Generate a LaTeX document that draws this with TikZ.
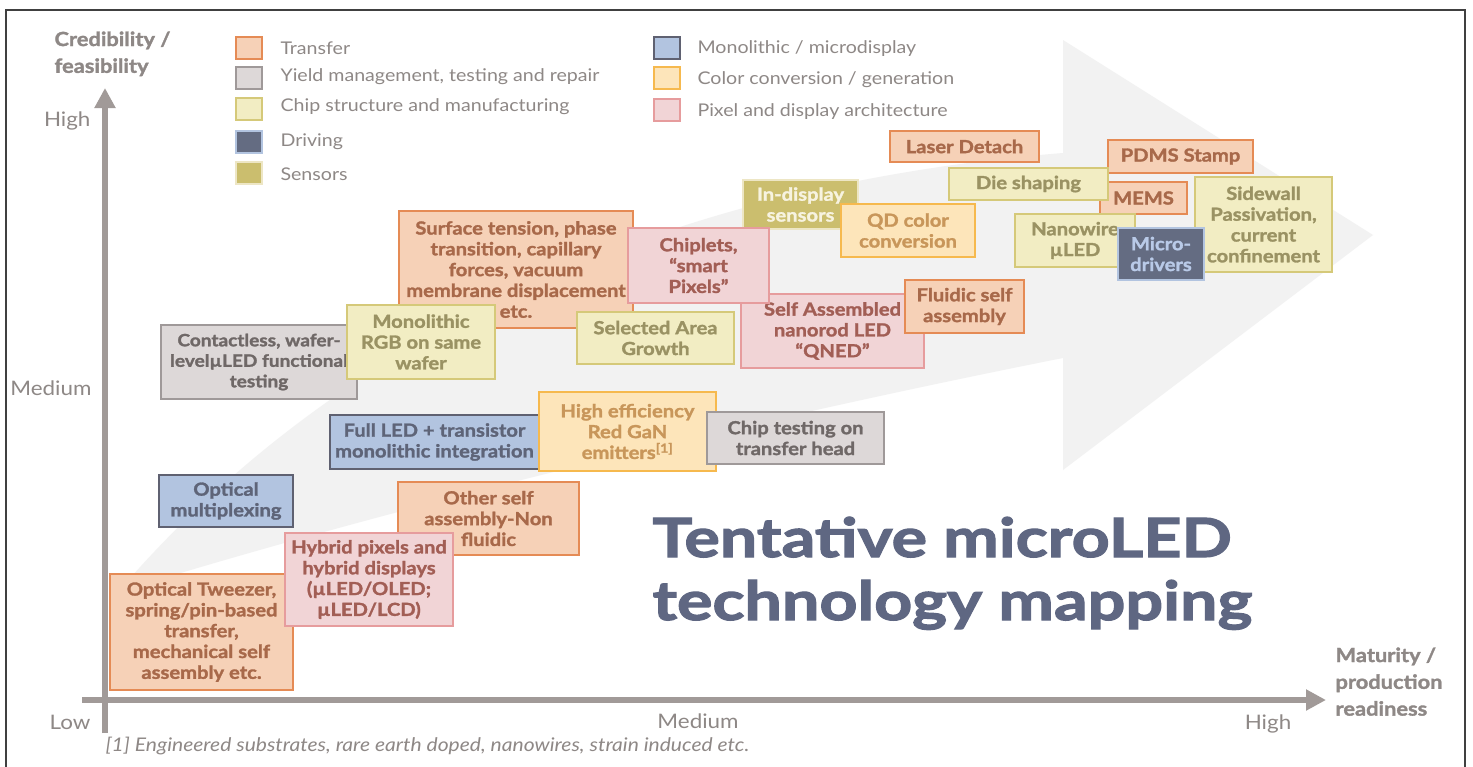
\documentclass[tikz,border=0pt]{standalone}
\usepackage{fontspec}
\setmainfont{Lato}
\newfontfamily\gill{Lato}[FakeStretch=1.12, BoldFeatures={FakeBold=1.6}]
\newfontfamily\gilltitle{Lato}[FakeStretch=1.23, BoldFeatures={FakeBold=2.2}]
\usetikzlibrary{arrows.meta}

\definecolor{trFill}{HTML}{F6D1B7}
\definecolor{trLine}{HTML}{E58B55}
\definecolor{trText}{HTML}{A8694A}
\definecolor{ydFill}{HTML}{DDD8D8}
\definecolor{ydLine}{HTML}{9F9999}
\definecolor{ydText}{HTML}{6F6867}
\definecolor{chFill}{HTML}{F2EDC3}
\definecolor{chLine}{HTML}{D5C979}
\definecolor{chText}{HTML}{9A9263}
\definecolor{drFill}{HTML}{646C82}
\definecolor{drLine}{HTML}{B2C4E0}
\definecolor{drText}{HTML}{B9CAE8}
\definecolor{snFill}{HTML}{CBBE6E}
\definecolor{snLine}{HTML}{EDE6C5}
\definecolor{snText}{HTML}{F7F3E0}
\definecolor{moFill}{HTML}{B2C4E0}
\definecolor{moLine}{HTML}{5F6171}
\definecolor{moText}{HTML}{5E6478}
\definecolor{ccFill}{HTML}{FDE5BA}
\definecolor{ccLine}{HTML}{F6B94E}
\definecolor{ccText}{HTML}{C8965A}
\definecolor{pxFill}{HTML}{F1D4D6}
\definecolor{pxLine}{HTML}{E69C9D}
\definecolor{pxText}{HTML}{A25E55}
\definecolor{axisGray}{HTML}{A19A98}
\definecolor{lblGray}{HTML}{8E8886}
\definecolor{arrowBg}{HTML}{F2F2F2}
\definecolor{titleC}{HTML}{5F6782}

\begin{document}
\begin{tikzpicture}[x=1pt, y=-1pt, >={Triangle[length=20pt,width=20pt]},
    techbox/.style={line width=2pt, anchor=north west, align=center, inner sep=1pt,
        font=\gill\bfseries\fontsize{18}{20.8}\selectfont},
    wh/.style 2 args={minimum width=#1pt, minimum height=#2pt},
    transfer/.style={techbox, fill=trFill, draw=trLine, text=trText},
    yield/.style={techbox, fill=ydFill, draw=ydLine, text=ydText},
    chip/.style={techbox, fill=chFill, draw=chLine, text=chText},
    driving/.style={techbox, fill=drFill, draw=drLine, text=drText},
    sensor/.style={techbox, fill=snFill, draw=snLine, text=snText},
    mono/.style={techbox, fill=moFill, draw=moLine, text=moText},
    colconv/.style={techbox, fill=ccFill, draw=ccLine, text=ccText},
    pixel/.style={techbox, fill=pxFill, draw=pxLine, text=pxText},
    lgtext/.style={anchor=west, text=lblGray, font=\gill\fontsize{17.5}{22}\selectfont},
    axlabel/.style={text=lblGray, font=\gill\fontsize{20}{25}\selectfont},
    axtitle/.style={anchor=north west, align=left, text=lblGray,
        font=\gill\bfseries\fontsize{19.5}{26.8}\selectfont},
    axis/.style={draw=axisGray, line width=6pt}]

\useasboundingbox (0,0) rectangle (1473,766);
\fill[white] (0,0) rectangle (1473,766);

% background arrow
\fill[arrowBg] (118,592) .. controls (300,380) and (600,190) .. (1063,153)
    -- (1063,40) -- (1373,235) -- (1063,470) -- (1063,358)
    .. controls (700,430) and (350,520) .. (118,592) -- cycle;

\draw[line width=1.5pt, black!75] (6,780) -- (6,10) -- (1465,10) -- (1465,780);

% axes
\coordinate (origin) at (105,700);
\coordinate (ytop) at (105,88);
\coordinate (xend) at (1326,700);
\draw[axis, ->] (105,733) -- (ytop);
\draw[axis, ->] (82,700) -- (xend);

\node[axtitle] (ytitle) at (51,28) {Credibility /\\feasibility};
\node[axtitle] (xtitle) at (1332,644) {Maturity /\\production\\readiness};
\node[axlabel, anchor=east] (yhigh) at (94,121) {High};
\node[axlabel, anchor=east] (ymed) at (95,388) {Medium};
\node[axlabel, anchor=east] (ylow) at (94,722) {Low};
\node[axlabel] (xmed) at (698,721) {Medium};
\node[axlabel] (xhigh) at (1268,724) {High};

% legend
\node[transfer, wh={26}{22}] (lgTr) at (235,36) {};
\node[yield, wh={26}{22}] (lgYd) at (235,66) {};
\node[chip, wh={26}{22}] (lgCh) at (235,97) {};
\node[driving, wh={26}{22}] (lgDr) at (235,130) {};
\node[sensor, wh={26}{22}] (lgSn) at (235,161) {};
\node[mono, wh={26}{22}] (lgMo) at (653,36) {};
\node[colconv, wh={26}{22}] (lgCc) at (653,66) {};
\node[pixel, wh={26}{22}] (lgPx) at (653,98) {};
\node[lgtext] (lgTrT) at (277,48) {Transfer};
\node[lgtext] (lgYdT) at (277,77) {Yield management, testing and repair};
\node[lgtext] (lgChT) at (277,107) {Chip structure and manufacturing};
\node[lgtext] (lgDrT) at (277,142) {Driving};
\node[lgtext] (lgSnT) at (277,174) {Sensors};
\node[lgtext] (lgMoT) at (694,49) {Monolithic / microdisplay};
\node[lgtext] (lgCcT) at (694,80) {Color conversion / generation};
\node[lgtext] (lgPxT) at (694,112) {Pixel and display architecture};

% technology boxes
\node[transfer, wh={149}{31}] (laser) at (889,130) {Laser Detach};
\node[transfer, wh={145}{33}] (pdms) at (1107,139) {PDMS Stamp};
\node[transfer, wh={87}{32}] (mems) at (1099,181) {MEMS};
\node[chip, wh={159}{32}] (die) at (948,167) {Die shaping};
\node[chip, wh={120}{53}] (nanowire) at (1014,213) {Nanowire\\µLED};
\node[chip, wh={137}{95}] (sidewall) at (1194,176) {Sidewall\\Passivation,\\current\\confinement};
\node[driving, wh={86}{52}] (microdrv) at (1117,227) {Micro-\\drivers};
\node[sensor, wh={115}{49}] (indisplay) at (742,179) {In-display\\sensors};
\node[colconv, wh={134}{53}] (qd) at (840,203) {QD color\\conversion};
\node[transfer, wh={234}{117}] (surface) at (398,210) {Surface tension, phase\\transition, capillary\\forces, vacuum\\membrane displacement\\etc.};
\node[yield, wh={196}{74}, font=\gill\bfseries\fontsize{17}{20.5}\selectfont] (contactless) at (160,324) {Contactless, wafer-\\levelµLED functional\\testing};
\node[chip, wh={148}{74}] (monorgb) at (346,304) {Monolithic\\RGB on same\\wafer};
\node[chip, wh={157}{52}] (selected) at (576,311) {Selected Area\\Growth};
\node[pixel, wh={183}{74}] (qned) at (740,293) {Self Assembled\\nanorod LED\\“QNED”};
\node[pixel, wh={141}{75}] (chiplets) at (627,227) {Chiplets,\\“smart\\Pixels”};
\node[transfer, wh={119}{53}] (fluidic) at (904,279) {Fluidic self\\assembly};
\node[mono, wh={209}{54}] (fullled) at (329,414) {Full LED + transistor\\monolithic integration};
\node[colconv, wh={177}{79}] (redgan) at (538,391) {High efficiency\\Red GaN\\emitters\textsuperscript{[1]}};
\node[yield, wh={177}{52}] (chiptest) at (706,411) {Chip testing on\\transfer head};
\node[transfer, wh={181}{73}] (otherself) at (397,481) {Other self\\assembly-Non\\fluidic};
\node[mono, wh={134}{52}] (optmux) at (158,474) {Optical\\multiplexing};
\node[transfer, wh={183}{116}] (tweezer) at (109,573) {Optical Tweezer,\\spring/pin-based\\transfer,\\mechanical self\\assembly etc.};
\node[pixel, wh={168}{93}] (hybrid) at (284,532) {Hybrid pixels and\\hybrid displays\\(µLED/OLED;\\µLED/LCD)};

% title and footnote
\node[anchor=base west, text=titleC, font=\gilltitle\bfseries\fontsize{54}{64}\selectfont] (titleA) at (649,557) {Tentative microLED};
\node[anchor=base west, text=titleC, font=\gilltitle\bfseries\fontsize{54}{64}\selectfont] (titleB) at (649,620) {technology mapping};
\node[anchor=west, text=lblGray, font=\gill\itshape\fontsize{18.8}{22}\selectfont] (note) at (102,746) {[1] Engineered substrates, rare earth doped, nanowires, strain induced etc.};
\end{tikzpicture}
\end{document}
